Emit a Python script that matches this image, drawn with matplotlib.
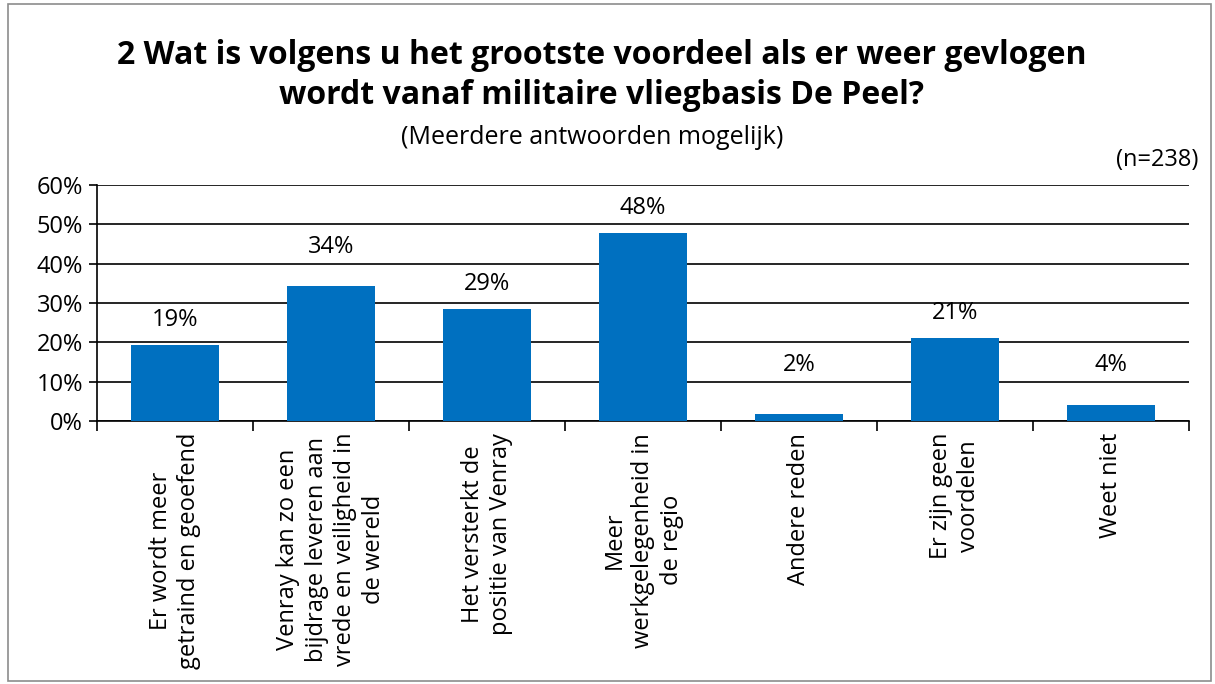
import matplotlib.pyplot as plt
from matplotlib.patches import Rectangle

# antwoordcategorieën en percentages
categories = [
    "Er wordt meer\ngetraind en geoefend",
    "Venray kan zo een\nbijdrage leveren aan\nvrede en veiligheid in\nde wereld",
    "Het versterkt de\npositie van Venray",
    "Meer\nwerkgelegenheid in\nde regio",
    "Andere reden",
    "Er zijn geen\nvoordelen",
    "Weet niet",
]
values = [19.3, 34.3, 28.5, 47.8, 1.9, 21.2, 4.1]
value_labels = ["19%", "34%", "29%", "48%", "2%", "21%", "4%"]
yticks = [0, 10, 20, 30, 40, 50, 60]
ytick_labels = ["0%", "10%", "20%", "30%", "40%", "50%", "60%"]

plt.rcParams['font.family'] = ['Open Sans', 'DejaVu Sans']
fs = 17

fig = plt.figure(figsize=(12.15, 6.84), dpi=100)
ax = fig.add_axes([97 / 1215, 1 - 421 / 684, 1092 / 1215, 236 / 684])

x = list(range(len(values)))
ax.bar(x, values, width=0.57, color="#0070C0", zorder=3)
ax.set_xlim(-0.5, len(values) - 0.5)
ax.set_ylim(0, 60)

ax.set_yticks(yticks)
ax.set_yticklabels(ytick_labels, fontsize=fs)
ax.yaxis.grid(True, color="black", linewidth=1.2, zorder=0)
ax.tick_params(axis="y", length=6, width=1.2, color="black", pad=4)

# ticks op de grenzen tussen categorieën
ax.set_xticks([i - 0.5 for i in range(len(values) + 1)])
ax.set_xticklabels([])
ax.tick_params(axis="x", length=7, width=1.2, direction="out", color="black")
for i, lab in enumerate(categories):
    ax.text(i, -3.0, lab, rotation=90, ha="center", va="top",
            multialignment="center", fontsize=fs, linespacing=1.25)

for sp in ["top", "right"]:
    ax.spines[sp].set_visible(False)
for sp in ["left", "bottom"]:
    ax.spines[sp].set_linewidth(1.2)
    ax.spines[sp].set_color("black")

# labels boven de balk, niet op een rasterlijn
for i, (v, lab) in enumerate(zip(values, value_labels)):
    y = v + 6.3
    g = round(y / 10) * 10
    if abs(y - g) < 2.2:
        y = g + 4.3
    ax.text(i, y, lab, ha="center", va="center", fontsize=fs)

fig.text(0.495, 1 - 55 / 684, "2 Wat is volgens u het grootste voordeel als er weer gevlogen",
         ha="center", va="center", fontsize=23, fontweight="bold")
fig.text(0.495, 1 - 96 / 684, "wordt vanaf militaire vliegbasis De Peel?",
         ha="center", va="center", fontsize=23, fontweight="bold")
fig.text(0.487, 1 - 137 / 684, "(Meerdere antwoorden mogelijk)",
         ha="center", va="center", fontsize=18)
fig.text(1198 / 1215, 1 - 160 / 684, "(n=238)", ha="right", va="center", fontsize=fs)

fig.patches.append(Rectangle((8 / 1215, 3 / 684), 1203 / 1215, 677 / 684,
                             transform=fig.transFigure, fill=False,
                             edgecolor="#8C8C8C", linewidth=1.2))

fig.savefig("out.png", dpi=100)
